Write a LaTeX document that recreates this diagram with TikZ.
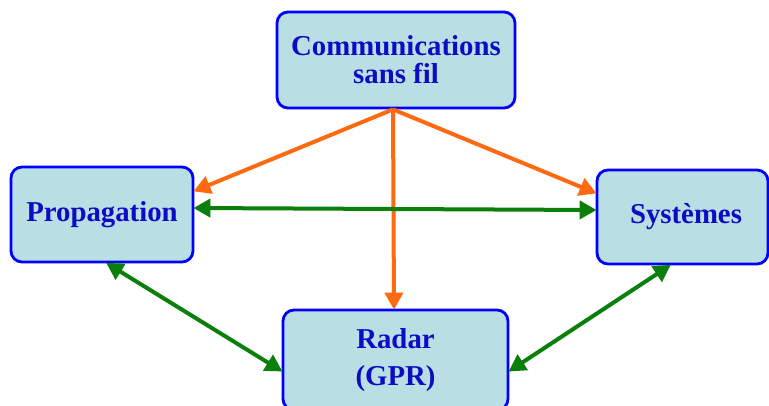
\documentclass[tikz,border=0pt]{standalone}
\usepackage{fontspec}
\setmainfont{Liberation Serif}
\usetikzlibrary{calc,arrows.meta}
\definecolor{boxfill}{HTML}{B9DFE4}
\definecolor{boxline}{HTML}{0000FF}
\definecolor{txtblue}{HTML}{0C0CC4}
\definecolor{arrorange}{HTML}{FF6A10}
\definecolor{arrgreen}{HTML}{0A7F0A}
\tikzset{
  box/.style={draw=boxline, fill=boxfill, line width=2.8pt, rounded corners=11pt,
    inner sep=0pt, align=center, text=txtblue,
    font=\fontsize{28.8}{28}\selectfont\bfseries},
  orangearrow/.style={draw=arrorange, line width=4pt, -{Triangle[length=17pt,width=18pt]}, shorten >=-1pt},
  greenarrow/.style={draw=arrgreen, line width=4pt, {Triangle[length=17pt,width=18pt]}-{Triangle[length=17pt,width=18pt]}, shorten >=-1pt, shorten <=-1pt}
}
\begin{document}
\begin{tikzpicture}[x=1pt,y=-1pt]
\useasboundingbox (0,0) rectangle (769,405);
\fill[white] (0,0) rectangle (769,405);
\node[box, minimum width=238pt, minimum height=96pt] (com) at (396,60) {Communications\\sans fil};
\node[box, minimum width=182pt, minimum height=95pt] (prop) at (102,214.5) {Propagation};
\node[box, minimum width=171pt, minimum height=94pt] (sys) at (682.5,217) {\hspace*{7pt}Systèmes};
\node[box, minimum width=225pt, minimum height=100pt] (radar) at (395.5,360) {\raisebox{3pt}{Radar}\\[6pt](GPR)};
% orange arrows
\coordinate (src) at ($(com.south)+(-3,0)$);
\draw[orangearrow] (src) -- ($(prop.east)+(0,-23.5)$);
\draw[orangearrow] (src) -- ($(sys.west)+(0,-24)$);
\draw[orangearrow] (src) -- ($(radar.north)+(-1.5,0)$);
% green arrows
\draw[greenarrow] ($(prop.east)+(0,-6.5)$) -- ($(sys.west)+(0,-7)$);
\draw[greenarrow] ($(prop.south)+(5,0)$) -- ($(radar.west)+(0,11)$);
\draw[greenarrow] ($(sys.south)+(-12.5,0)$) -- ($(radar.east)+(0,11)$);
\end{tikzpicture}
\end{document}
